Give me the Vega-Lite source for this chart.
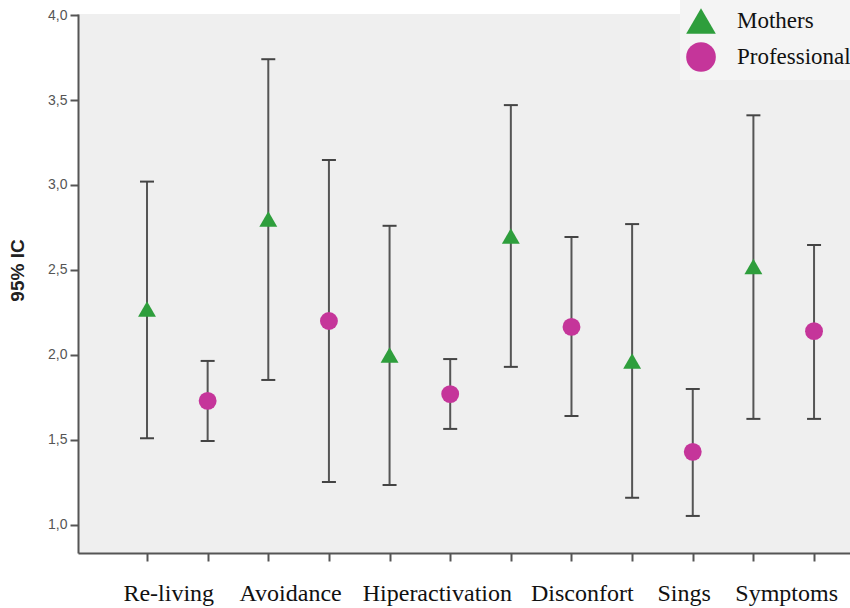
{
  "$schema": "https://vega.github.io/schema/vega-lite/v6.json",
  "width": 772,
  "height": 539,
  "autosize": {"type": "none"},
  "padding": {"left": 78, "top": 14, "right": 0, "bottom": 55},
  "background": "white",
  "config": {
    "view": {"fill": "#efefef", "stroke": null},
    "axis": {"grid": false, "domainColor": "#555555", "domainWidth": 2, "tickColor": "#555555", "tickWidth": 2}
  },
  "data": {
    "values": [
      {"cat": "Re-living", "group": "Mothers", "pos": 1, "mean": 2.27, "lo": 1.51, "hi": 3.02},
      {"cat": "Re-living", "group": "Professionals", "pos": 2, "mean": 1.73, "lo": 1.494, "hi": 1.965},
      {"cat": "Avoidance", "group": "Mothers", "pos": 3, "mean": 2.80, "lo": 1.853, "hi": 3.74},
      {"cat": "Avoidance", "group": "Professionals", "pos": 4, "mean": 2.20, "lo": 1.253, "hi": 3.147},
      {"cat": "Hiperactivation", "group": "Mothers", "pos": 5, "mean": 2.00, "lo": 1.235, "hi": 2.76},
      {"cat": "Hiperactivation", "group": "Professionals", "pos": 6, "mean": 1.77, "lo": 1.565, "hi": 1.976},
      {"cat": "Disconfort", "group": "Mothers", "pos": 7, "mean": 2.70, "lo": 1.93, "hi": 3.47},
      {"cat": "Disconfort", "group": "Professionals", "pos": 8, "mean": 2.165, "lo": 1.641, "hi": 2.694},
      {"cat": "Sings", "group": "Mothers", "pos": 9, "mean": 1.965, "lo": 1.16, "hi": 2.77},
      {"cat": "Sings", "group": "Professionals", "pos": 10, "mean": 1.43, "lo": 1.053, "hi": 1.80},
      {"cat": "Symptoms", "group": "Mothers", "pos": 11, "mean": 2.52, "lo": 1.624, "hi": 3.41},
      {"cat": "Symptoms", "group": "Professionals", "pos": 12, "mean": 2.14, "lo": 1.624, "hi": 2.647}
    ]
  },
  "encoding": {
    "x": {
      "field": "pos",
      "type": "quantitative",
      "scale": {"domain": [-0.138, 12.593], "nice": false, "zero": false},
      "axis": {
        "title": null,
        "values": [1, 1.35, 2, 3, 3.36, 4, 5, 5.78, 6, 7, 8, 8.17, 9, 9.85, 10, 11, 11.54, 12],
        "tickSize": 8,
        "tickColor": {"condition": {"test": "datum.value % 1 != 0", "value": "transparent"}, "value": "#555555"},
        "labelExpr": "datum.value == 1.35 ? 'Re-living' : datum.value == 3.36 ? 'Avoidance' : datum.value == 5.78 ? 'Hiperactivation' : datum.value == 8.17 ? 'Disconfort' : datum.value == 9.85 ? 'Sings' : datum.value == 11.54 ? 'Symptoms' : ''",
        "labelFont": "Liberation Serif",
        "labelFontSize": 24,
        "labelColor": "#111111",
        "labelPadding": 20,
        "labelOverlap": false,
        "labelFlush": false,
        "labelBound": false
      }
    }
  },
  "layer": [
    {
      "mark": {"type": "rule", "color": "#555555", "strokeWidth": 2},
      "encoding": {
        "y": {
          "field": "lo",
          "type": "quantitative",
          "title": "95% IC",
          "scale": {"domain": [0.835, 4.006], "nice": false, "zero": false},
          "axis": {
            "values": [1, 1.5, 2, 2.5, 3, 3.5, 4],
            "labelExpr": "replace(format(datum.value, '.1f'), '.', ',')",
            "tickSize": 8,
            "labelPadding": 3,
            "labelFont": "Liberation Sans",
            "labelFontSize": 14,
            "labelColor": "#555555",
            "labelFlush": false,
            "labelBound": false,
            "titleFont": "Liberation Sans",
            "titleFontSize": 19,
            "titleFontWeight": "bold",
            "titleColor": "#222222",
            "titlePadding": 20,
            "titleY": 256
          }
        },
        "y2": {"field": "hi"}
      }
    },
    {
      "mark": {"type": "tick", "orient": "horizontal", "color": "#444444", "size": 14, "thickness": 2, "opacity": 1},
      "encoding": {"y": {"field": "lo", "type": "quantitative", "title": "95% IC"}}
    },
    {
      "mark": {"type": "tick", "orient": "horizontal", "color": "#444444", "size": 14, "thickness": 2, "opacity": 1},
      "encoding": {"y": {"field": "hi", "type": "quantitative", "title": "95% IC"}}
    },
    {
      "mark": {"type": "point", "filled": true, "opacity": 1, "size": 320},
      "encoding": {
        "y": {"field": "mean", "type": "quantitative", "title": "95% IC"},
        "color": {
          "field": "group",
          "type": "nominal",
          "scale": {"domain": ["Mothers", "Professionals"], "range": ["#2e9e3c", "#c5359a"]},
          "legend": {
            "title": null,
            "orient": "none",
            "legendX": 602,
            "legendY": -14,
            "padding": 5,
            "fillColor": "#f4f4f4",
            "symbolSize": 880,
            "symbolOpacity": 1,
            "rowPadding": 2,
            "labelFont": "Liberation Serif",
            "labelFontSize": 23,
            "labelColor": "#111111",
            "labelOffset": 20,
            "labelLimit": 300
          }
        },
        "shape": {
          "field": "group",
          "type": "nominal",
          "scale": {"domain": ["Mothers", "Professionals"], "range": ["triangle-up", "circle"]}
        }
      }
    }
  ]
}
